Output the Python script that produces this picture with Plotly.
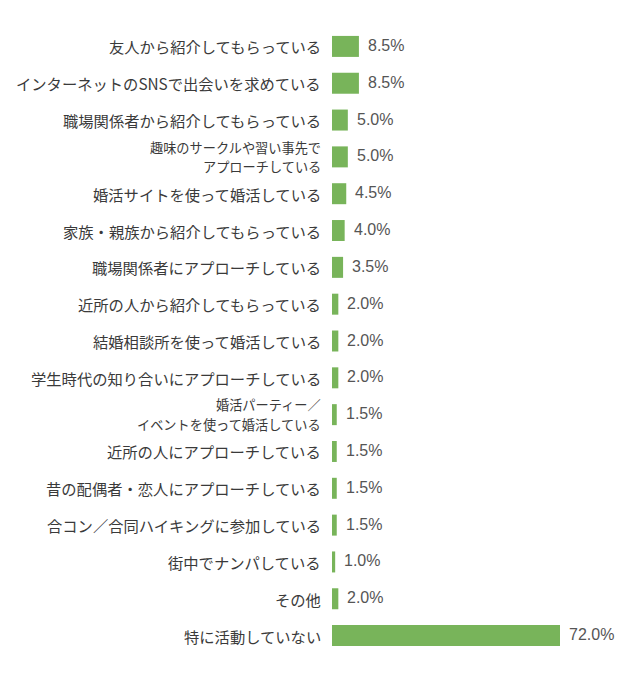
import plotly.graph_objects as go

categories = [
    "友人から紹介してもらっている",
    "インターネットのSNSで出会いを求めている",
    "職場関係者から紹介してもらっている",
    "趣味のサークルや習い事先で<br>アプローチしている",
    "婚活サイトを使って婚活している",
    "家族・親族から紹介してもらっている",
    "職場関係者にアプローチしている",
    "近所の人から紹介してもらっている",
    "結婚相談所を使って婚活している",
    "学生時代の知り合いにアプローチしている",
    "婚活パーティー／<br>イベントを使って婚活している",
    "近所の人にアプローチしている",
    "昔の配偶者・恋人にアプローチしている",
    "合コン／合同ハイキングに参加している",
    "街中でナンパしている",
    "その他",
    "特に活動していない",
]
values = [8.5, 8.5, 5.0, 5.0, 4.5, 4.0, 3.5, 2.0, 2.0, 2.0, 1.5, 1.5, 1.5, 1.5, 1.0, 2.0, 72.0]

FONT = "Noto Sans CJK JP"
NUM_FONT = "Liberation Sans"
BAR_COLOR = "#78b45a"

ypos = list(range(len(categories)))

fig = go.Figure(go.Bar(
    x=values, y=ypos, orientation="h",
    marker=dict(color=BAR_COLOR, line=dict(width=0)),
    width=0.57, hoverinfo="skip",
))

annotations = []
for i, (cat, v) in enumerate(zip(categories, values)):
    lines = cat.split("<br>")
    n = len(lines)
    size = 15.3 if n == 1 else 13.2
    gap = 19.5
    for j, line in enumerate(lines):
        annotations.append(dict(
            x=0, xref="x", y=i, yref="y", text=line, showarrow=False,
            xanchor="right", yanchor="middle", xshift=-9,
            yshift=(n - 1) * gap / 2 - j * gap,
            font=dict(family=FONT, size=size, color="#3a3a3a"),
        ))
    annotations.append(dict(
        x=v, xref="x", y=i, yref="y", text=f"{v:.1f}%", showarrow=False,
        xanchor="left", yanchor="middle", xshift=7, yshift=1,
        font=dict(family=NUM_FONT, size=16, color="#555555"),
    ))

fig.update_layout(
    width=640, height=690,
    margin=dict(l=332, r=23, t=28, b=36),
    paper_bgcolor="white", plot_bgcolor="white",
    showlegend=False,
    xaxis=dict(range=[0, 90], visible=False, fixedrange=True),
    yaxis=dict(range=[16.5, -0.5], visible=False, fixedrange=True),
    annotations=annotations,
    font=dict(family=FONT),
)

fig.write_html("out.html")
